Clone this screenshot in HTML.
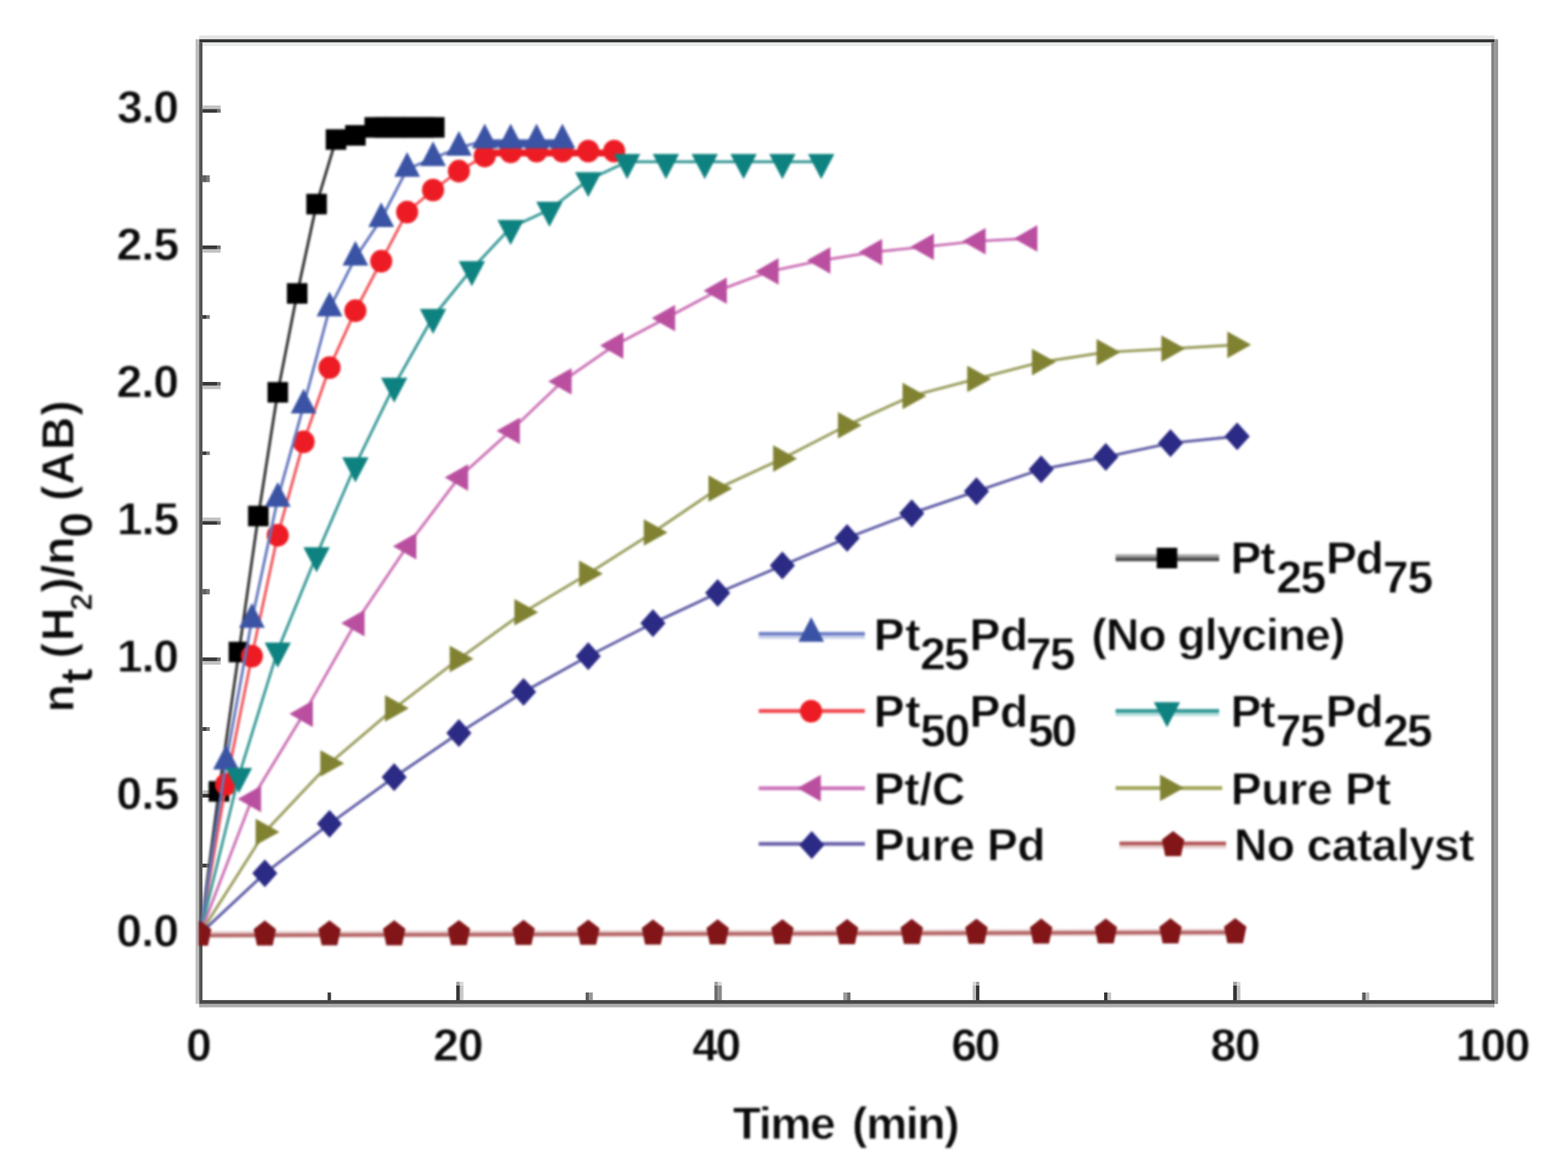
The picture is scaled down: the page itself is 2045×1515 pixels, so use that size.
<!DOCTYPE html>
<html lang="en"><head><meta charset="utf-8"><title>Hydrogen generation plot</title>
<style>
html,body{margin:0;padding:0;background:#fff;}
body{width:2045px;height:1515px;overflow:hidden;}
svg{display:block;}
text{font-family:"Liberation Sans",sans-serif;font-weight:bold;font-size:60px;fill:#0a0a0a;stroke:#fff;stroke-width:0.8px;stroke-linejoin:round;}
</style></head><body>
<svg width="2045" height="1515" viewBox="0 0 2045 1515">
<defs><clipPath id="pc"><rect x="259.4" y="40" width="1800" height="1280"/></clipPath><filter id="b" x="-1%" y="-1%" width="102%" height="102%" color-interpolation-filters="sRGB"><feGaussianBlur stdDeviation="1.6"/></filter><filter id="b2" x="-1%" y="-1%" width="102%" height="102%" color-interpolation-filters="sRGB"><feGaussianBlur stdDeviation="0.7"/></filter></defs>
<rect width="2045" height="1515" fill="#ffffff"/>
<g id="frame" filter="url(#b2)">
<rect x="259.6" y="46.2" width="1689.7" height="5.0" fill="#e4e4e4"/>
<rect x="264.1" y="55.1" width="1680.8" height="5.0" fill="#e8eaec"/>
<rect x="259.6" y="51.2" width="1689.7" height="4.0" fill="#323232"/>
<rect x="1944.9" y="55.2" width="4.4" height="1248.8" fill="#858585"/>
<rect x="1949.3" y="51.2" width="4.5" height="1257.7" fill="#959595"/>
<rect x="259.6" y="1308.8" width="1689.7" height="4.6" fill="#acacac"/>
<rect x="259.6" y="1303.9" width="1689.7" height="4.9" fill="#484848"/>
<rect x="255.1" y="51.2" width="4.5" height="1257.6" fill="#bebebe"/>
<rect x="259.6" y="55.2" width="4.5" height="1248.8" fill="#555555"/>
</g>
<g id="ticks" filter="url(#b2)">
<rect x="264.1" y="137.5" width="23.7" height="4.7" fill="#c2c2c2"/>
<rect x="264.1" y="142.2" width="18.9" height="4.7" fill="#383838"/>
<rect x="283.0" y="142.2" width="4.8" height="4.7" fill="#707070"/>
<rect x="264.1" y="324.8" width="23.7" height="4.7" fill="#c2c2c2"/>
<rect x="264.1" y="320.1" width="18.9" height="4.7" fill="#383838"/>
<rect x="283.0" y="320.1" width="4.8" height="4.7" fill="#707070"/>
<rect x="264.1" y="502.7" width="23.7" height="4.7" fill="#c2c2c2"/>
<rect x="264.1" y="498.0" width="18.9" height="4.7" fill="#383838"/>
<rect x="283.0" y="498.0" width="4.8" height="4.7" fill="#707070"/>
<rect x="264.1" y="674.7" width="23.7" height="4.7" fill="#c2c2c2"/>
<rect x="264.1" y="679.4" width="18.9" height="4.7" fill="#383838"/>
<rect x="283.0" y="679.4" width="4.8" height="4.7" fill="#707070"/>
<rect x="264.1" y="861.9" width="23.7" height="4.7" fill="#c2c2c2"/>
<rect x="264.1" y="857.2" width="18.9" height="4.7" fill="#383838"/>
<rect x="283.0" y="857.2" width="4.8" height="4.7" fill="#707070"/>
<rect x="264.1" y="1030.4" width="23.7" height="4.7" fill="#c2c2c2"/>
<rect x="264.1" y="1035.1" width="18.9" height="4.7" fill="#383838"/>
<rect x="283.0" y="1035.1" width="4.8" height="4.7" fill="#707070"/>
<rect x="264.1" y="228.5" width="4.9" height="9.0" fill="#5e5e5e"/>
<rect x="269.0" y="228.5" width="4.6" height="9.0" fill="#787878"/>
<rect x="264.1" y="410.8" width="4.9" height="4.9" fill="#383838"/>
<rect x="269.0" y="410.8" width="4.6" height="4.9" fill="#787878"/>
<rect x="264.1" y="588.6" width="4.9" height="4.6" fill="#383838"/>
<rect x="269.0" y="588.6" width="4.6" height="4.6" fill="#787878"/>
<rect x="264.1" y="767.9" width="4.9" height="7.0" fill="#606060"/>
<rect x="269.0" y="767.9" width="4.6" height="7.0" fill="#787878"/>
<rect x="264.1" y="948.0" width="4.9" height="5.0" fill="#404040"/>
<rect x="269.0" y="948.0" width="4.6" height="5.0" fill="#787878"/>
<rect x="264.1" y="1126.0" width="4.9" height="5.0" fill="#404040"/>
<rect x="269.0" y="1126.0" width="4.6" height="5.0" fill="#787878"/>
<rect x="595.1" y="1284.6" width="4.7" height="19.4" fill="#343434"/>
<rect x="595.1" y="1280.0" width="4.7" height="4.6" fill="#a0a0a0"/>
<rect x="599.8" y="1284.6" width="4.7" height="19.4" fill="#c8c8c8"/>
<rect x="599.8" y="1280.0" width="4.7" height="4.6" fill="#d8d8d8"/>
<rect x="931.7" y="1284.6" width="4.8" height="19.4" fill="#6e6e6e"/>
<rect x="931.7" y="1280.0" width="4.8" height="4.6" fill="#a0a0a0"/>
<rect x="936.5" y="1284.6" width="4.9" height="19.4" fill="#8a8a8a"/>
<rect x="936.5" y="1280.0" width="4.9" height="4.6" fill="#d8d8d8"/>
<rect x="1268.5" y="1284.6" width="4.5" height="19.4" fill="#bcbcbc"/>
<rect x="1268.5" y="1280.0" width="4.5" height="4.6" fill="#d8d8d8"/>
<rect x="1273.0" y="1284.6" width="4.3" height="19.4" fill="#343434"/>
<rect x="1273.0" y="1280.0" width="4.3" height="4.6" fill="#a0a0a0"/>
<rect x="1608.3" y="1284.6" width="4.7" height="19.4" fill="#343434"/>
<rect x="1608.3" y="1280.0" width="4.7" height="4.6" fill="#a0a0a0"/>
<rect x="1613.0" y="1284.6" width="4.7" height="19.4" fill="#c0c0c0"/>
<rect x="1613.0" y="1280.0" width="4.7" height="4.6" fill="#d8d8d8"/>
<rect x="427.3" y="1294.0" width="4.4" height="10.0" fill="#3a3a3a"/>
<rect x="763.8" y="1294.0" width="4.7" height="10.0" fill="#5e5e5e"/>
<rect x="768.5" y="1294.0" width="4.7" height="10.0" fill="#9a9a9a"/>
<rect x="1099.8" y="1294.0" width="4.7" height="10.0" fill="#9a9a9a"/>
<rect x="1104.5" y="1294.0" width="4.7" height="10.0" fill="#6e6e6e"/>
<rect x="1440.0" y="1294.0" width="4.6" height="10.0" fill="#343434"/>
<rect x="1444.6" y="1294.0" width="4.6" height="10.0" fill="#c8c8c8"/>
<rect x="1776.5" y="1294.0" width="4.5" height="10.0" fill="#5e5e5e"/>
<rect x="1781.0" y="1294.0" width="4.8" height="10.0" fill="#bcbcbc"/>
</g>
<g filter="url(#b)">
<g id="ylabels">
<text><tspan x="151.8" y="1234.4" letter-spacing="-0.94">0.0</tspan></text>
<text><tspan x="151.8" y="1055.2" letter-spacing="-0.73">0.5</tspan></text>
<text><tspan x="152.6" y="876.1" letter-spacing="-1.33">1.0</tspan></text>
<text><tspan x="152.6" y="697.0" letter-spacing="-1.13">1.5</tspan></text>
<text><tspan x="152.1" y="517.8" letter-spacing="-1.08">2.0</tspan></text>
<text><tspan x="152.1" y="338.7" letter-spacing="-0.88">2.5</tspan></text>
<text><tspan x="152.8" y="159.5" letter-spacing="-1.44">3.0</tspan></text>
</g>
<g id="xlabels">
<text><tspan x="242.7" y="1382.6">0</tspan></text>
<text><tspan x="565.0" y="1382.6" letter-spacing="-1.00">20</tspan></text>
<text><tspan x="902.9" y="1382.6" letter-spacing="-3.00">40</tspan></text>
<text><tspan x="1240.8" y="1382.6" letter-spacing="-3.00">60</tspan></text>
<text><tspan x="1578.7" y="1382.6" letter-spacing="-1.57">80</tspan></text>
<text><tspan x="1898.8" y="1382.6" letter-spacing="-1.53">100</tspan></text>
</g>
<g id="xtitle">
<text><tspan x="955.7" y="1485.0" letter-spacing="-1.57">Time</tspan> <tspan x="1111.3" y="1485.0" letter-spacing="-1.59">(min)</tspan></text>
</g>
<g id="ytitle" transform="translate(96,925) rotate(-90)">
<text><tspan x="-3.8" y="0.0">n</tspan><tspan x="33.8" y="24.0">t</tspan> <tspan x="66.8" y="0.0">(</tspan><tspan x="89.3" y="0.0">H</tspan><tspan x="129.0" y="24.0" style="font-size:40px">2</tspan><tspan x="152.2" y="0.0">)</tspan><tspan x="172.0" y="0.0">/</tspan><tspan x="188.4" y="0.0">n</tspan><tspan x="224.0" y="24.0">0</tspan> <tspan x="272.0" y="0.0">(</tspan><tspan x="293.1" y="0.0">A</tspan><tspan x="338.2" y="0.0">B</tspan><tspan x="382.9" y="0.0">)</tspan></text>
</g>
<g id="s-black" clip-path="url(#pc)">
<polyline points="261.0,1217.4 285.5,1031.8 311.6,850.1 336.9,672.8 362.2,511.5 387.6,382.6 412.9,266.1 438.2,181.9 463.5,176.5 488.8,166.1 514.1,166.1 539.4,166.1 566.4,166.1" fill="none" stroke="#303030" stroke-width="3.6" stroke-linejoin="round"/>
<line x1="488.8" y1="166.1" x2="566.4" y2="166.1" stroke="#000" stroke-width="26.8"/>
<rect x="272.1" y="1018.4" width="26.8" height="26.8" fill="#000000"/>
<rect x="298.2" y="836.7" width="26.8" height="26.8" fill="#000000"/>
<rect x="323.5" y="659.4" width="26.8" height="26.8" fill="#000000"/>
<rect x="348.9" y="498.1" width="26.8" height="26.8" fill="#000000"/>
<rect x="374.2" y="369.2" width="26.8" height="26.8" fill="#000000"/>
<rect x="399.5" y="252.7" width="26.8" height="26.8" fill="#000000"/>
<rect x="424.8" y="168.5" width="26.8" height="26.8" fill="#000000"/>
<rect x="450.1" y="163.1" width="26.8" height="26.8" fill="#000000"/>
<rect x="475.4" y="152.7" width="26.8" height="26.8" fill="#000000"/>
<rect x="500.7" y="152.7" width="26.8" height="26.8" fill="#000000"/>
<rect x="526.0" y="152.7" width="26.8" height="26.8" fill="#000000"/>
<rect x="553.0" y="152.7" width="26.8" height="26.8" fill="#000000"/>
</g>
<g id="s-red" clip-path="url(#pc)">
<polyline points="261.0,1217.4 294.8,1022.8 328.5,855.5 362.2,697.9 396.0,576.0 429.8,479.3 463.5,405.1 497.2,340.6 531.0,276.5 564.8,247.8 598.5,223.1 632.2,203.4 666.0,198.0 699.8,197.0 733.5,197.0 767.2,197.0 801.0,197.0" fill="none" stroke="#f2555a" stroke-width="3.6" stroke-linejoin="round"/>
<line x1="632.2" y1="199.5" x2="801.0" y2="199.5" stroke="#ed1c24" stroke-width="9"/>
<ellipse cx="294.8" cy="1022.8" rx="14.4" ry="14.8" fill="#ed1c24"/>
<ellipse cx="328.5" cy="855.5" rx="14.4" ry="14.8" fill="#ed1c24"/>
<ellipse cx="362.2" cy="697.9" rx="14.4" ry="14.8" fill="#ed1c24"/>
<ellipse cx="396.0" cy="576.0" rx="14.4" ry="14.8" fill="#ed1c24"/>
<ellipse cx="429.8" cy="479.3" rx="14.4" ry="14.8" fill="#ed1c24"/>
<ellipse cx="463.5" cy="405.1" rx="14.4" ry="14.8" fill="#ed1c24"/>
<ellipse cx="497.2" cy="340.6" rx="14.4" ry="14.8" fill="#ed1c24"/>
<ellipse cx="531.0" cy="276.5" rx="14.4" ry="14.8" fill="#ed1c24"/>
<ellipse cx="564.8" cy="247.8" rx="14.4" ry="14.8" fill="#ed1c24"/>
<ellipse cx="598.5" cy="223.1" rx="14.4" ry="14.8" fill="#ed1c24"/>
<ellipse cx="632.2" cy="203.4" rx="14.4" ry="14.8" fill="#ed1c24"/>
<ellipse cx="666.0" cy="198.0" rx="14.4" ry="14.8" fill="#ed1c24"/>
<ellipse cx="699.8" cy="197.0" rx="14.4" ry="14.8" fill="#ed1c24"/>
<ellipse cx="733.5" cy="197.0" rx="14.4" ry="14.8" fill="#ed1c24"/>
<ellipse cx="767.2" cy="197.0" rx="14.4" ry="14.8" fill="#ed1c24"/>
<ellipse cx="801.0" cy="197.0" rx="14.4" ry="14.8" fill="#ed1c24"/>
</g>
<g id="s-blue" clip-path="url(#pc)">
<polyline points="261.0,1217.4 294.8,993.1 328.5,808.2 362.2,650.6 396.0,528.7 429.8,402.3 463.5,336.0 497.2,285.8 531.0,220.3 564.8,206.3 598.5,192.7 632.2,183.3 666.0,183.3 699.8,183.3 733.5,183.3" fill="none" stroke="#6477bd" stroke-width="3.6" stroke-linejoin="round"/>
<line x1="620.4" y1="187.0" x2="741.9" y2="187.0" stroke="#3a53a4" stroke-width="9"/>
<polygon points="294.8,971.1 311.6,1003.3 277.9,1003.3" fill="#3a53a4"/>
<polygon points="328.5,786.2 345.3,818.4 311.7,818.4" fill="#3a53a4"/>
<polygon points="362.2,628.6 379.1,660.8 345.4,660.8" fill="#3a53a4"/>
<polygon points="396.0,506.7 412.8,538.9 379.2,538.9" fill="#3a53a4"/>
<polygon points="429.8,380.3 446.6,412.5 412.9,412.5" fill="#3a53a4"/>
<polygon points="463.5,314.0 480.3,346.2 446.7,346.2" fill="#3a53a4"/>
<polygon points="497.2,263.8 514.0,296.0 480.4,296.0" fill="#3a53a4"/>
<polygon points="531.0,198.3 547.8,230.5 514.2,230.5" fill="#3a53a4"/>
<polygon points="564.8,184.3 581.5,216.5 548.0,216.5" fill="#3a53a4"/>
<polygon points="598.5,170.7 615.3,202.9 581.7,202.9" fill="#3a53a4"/>
<polygon points="632.2,161.3 649.0,193.5 615.5,193.5" fill="#3a53a4"/>
<polygon points="666.0,161.3 682.8,193.5 649.2,193.5" fill="#3a53a4"/>
<polygon points="699.8,161.3 716.5,193.5 683.0,193.5" fill="#3a53a4"/>
<polygon points="733.5,161.3 750.3,193.5 716.7,193.5" fill="#3a53a4"/>
</g>
<g id="s-teal" clip-path="url(#pc)">
<polyline points="261.0,1217.4 311.6,1011.4 362.2,848.0 412.9,723.7 463.5,606.5 514.1,502.6 564.8,413.0 615.4,350.7 666.0,296.9 716.6,273.3 767.2,234.6 817.9,210.9 868.5,210.9 919.1,210.9 969.8,210.9 1020.4,210.9 1071.0,210.9" fill="none" stroke="#3a9a98" stroke-width="3.6" stroke-linejoin="round"/>
<polygon points="311.6,1033.9 328.8,1001.2 294.4,1001.2" fill="#0e8280"/>
<polygon points="362.2,870.5 379.4,837.8 345.1,837.8" fill="#0e8280"/>
<polygon points="412.9,746.2 430.1,713.5 395.7,713.5" fill="#0e8280"/>
<polygon points="463.5,629.0 480.7,596.3 446.3,596.3" fill="#0e8280"/>
<polygon points="514.1,525.1 531.3,492.4 496.9,492.4" fill="#0e8280"/>
<polygon points="564.8,435.5 582.0,402.8 547.5,402.8" fill="#0e8280"/>
<polygon points="615.4,373.2 632.6,340.5 598.2,340.5" fill="#0e8280"/>
<polygon points="666.0,319.4 683.2,286.7 648.8,286.7" fill="#0e8280"/>
<polygon points="716.6,295.8 733.8,263.1 699.4,263.1" fill="#0e8280"/>
<polygon points="767.2,257.1 784.5,224.4 750.0,224.4" fill="#0e8280"/>
<polygon points="817.9,233.4 835.1,200.7 800.7,200.7" fill="#0e8280"/>
<polygon points="868.5,233.4 885.7,200.7 851.3,200.7" fill="#0e8280"/>
<polygon points="919.1,233.4 936.3,200.7 901.9,200.7" fill="#0e8280"/>
<polygon points="969.8,233.4 987.0,200.7 952.5,200.7" fill="#0e8280"/>
<polygon points="1020.4,233.4 1037.6,200.7 1003.2,200.7" fill="#0e8280"/>
<polygon points="1071.0,233.4 1088.2,200.7 1053.8,200.7" fill="#0e8280"/>
</g>
<g id="s-mag" clip-path="url(#pc)">
<polyline points="261.0,1217.4 328.5,1041.8 396.0,930.8 463.5,812.5 531.0,712.2 598.5,622.6 666.0,561.7 733.5,497.2 801.0,450.6 868.5,414.8 936.0,379.0 1003.5,353.9 1071.0,339.6 1138.5,328.8 1206.0,321.7 1273.5,314.5 1341.0,310.9" fill="none" stroke="#cc72b6" stroke-width="3.6" stroke-linejoin="round"/>
<polygon points="310.0,1041.8 340.5,1024.5 340.5,1059.1" fill="#ba4fa0"/>
<polygon points="377.5,930.8 408.0,913.5 408.0,948.1" fill="#ba4fa0"/>
<polygon points="445.0,812.5 475.5,795.2 475.5,829.8" fill="#ba4fa0"/>
<polygon points="512.5,712.2 543.0,694.9 543.0,729.5" fill="#ba4fa0"/>
<polygon points="580.0,622.6 610.5,605.3 610.5,639.9" fill="#ba4fa0"/>
<polygon points="647.5,561.7 678.0,544.4 678.0,579.0" fill="#ba4fa0"/>
<polygon points="715.0,497.2 745.5,479.9 745.5,514.5" fill="#ba4fa0"/>
<polygon points="782.5,450.6 813.0,433.3 813.0,467.9" fill="#ba4fa0"/>
<polygon points="850.0,414.8 880.5,397.5 880.5,432.1" fill="#ba4fa0"/>
<polygon points="917.5,379.0 948.0,361.7 948.0,396.3" fill="#ba4fa0"/>
<polygon points="985.0,353.9 1015.5,336.6 1015.5,371.2" fill="#ba4fa0"/>
<polygon points="1052.5,339.6 1083.0,322.3 1083.0,356.9" fill="#ba4fa0"/>
<polygon points="1120.0,328.8 1150.5,311.5 1150.5,346.1" fill="#ba4fa0"/>
<polygon points="1187.5,321.7 1218.0,304.4 1218.0,339.0" fill="#ba4fa0"/>
<polygon points="1255.0,314.5 1285.5,297.2 1285.5,331.8" fill="#ba4fa0"/>
<polygon points="1322.5,310.9 1353.0,293.6 1353.0,328.2" fill="#ba4fa0"/>
</g>
<g id="s-olive" clip-path="url(#pc)">
<polyline points="261.0,1217.4 345.4,1084.8 429.8,995.3 514.1,923.6 598.5,859.1 682.9,798.2 767.2,748.0 851.6,694.3 936.0,637.0 1020.4,597.9 1104.8,554.5 1189.1,516.2 1273.5,494.0 1357.9,472.1 1442.2,459.2 1526.6,454.6 1612.7,449.6" fill="none" stroke="#9a9c5c" stroke-width="3.6" stroke-linejoin="round"/>
<polygon points="364.4,1084.8 333.4,1067.5 333.4,1102.1" fill="#808232"/>
<polygon points="448.8,995.3 417.8,978.0 417.8,1012.6" fill="#808232"/>
<polygon points="533.1,923.6 502.1,906.3 502.1,940.9" fill="#808232"/>
<polygon points="617.5,859.1 586.5,841.8 586.5,876.4" fill="#808232"/>
<polygon points="701.9,798.2 670.9,780.9 670.9,815.5" fill="#808232"/>
<polygon points="786.2,748.0 755.2,730.7 755.2,765.3" fill="#808232"/>
<polygon points="870.6,694.3 839.6,677.0 839.6,711.6" fill="#808232"/>
<polygon points="955.0,637.0 924.0,619.7 924.0,654.3" fill="#808232"/>
<polygon points="1039.4,597.9 1008.4,580.6 1008.4,615.2" fill="#808232"/>
<polygon points="1123.8,554.5 1092.8,537.2 1092.8,571.8" fill="#808232"/>
<polygon points="1208.1,516.2 1177.1,498.9 1177.1,533.5" fill="#808232"/>
<polygon points="1292.5,494.0 1261.5,476.7 1261.5,511.3" fill="#808232"/>
<polygon points="1376.9,472.1 1345.9,454.8 1345.9,489.4" fill="#808232"/>
<polygon points="1461.2,459.2 1430.2,441.9 1430.2,476.5" fill="#808232"/>
<polygon points="1545.6,454.6 1514.6,437.3 1514.6,471.9" fill="#808232"/>
<polygon points="1631.7,449.6 1600.7,432.3 1600.7,466.9" fill="#808232"/>
</g>
<g id="s-navy" clip-path="url(#pc)">
<polyline points="261.0,1217.4 345.4,1138.6 429.8,1074.1 514.1,1013.2 598.5,955.8 682.9,902.1 767.2,855.5 851.6,812.5 936.0,773.1 1020.4,737.3 1104.8,701.4 1189.1,669.2 1273.5,640.5 1357.9,611.9 1442.2,595.7 1526.6,577.8 1613.5,568.9" fill="none" stroke="#5c5aa4" stroke-width="3.6" stroke-linejoin="round"/>
<polygon points="345.4,1120.4 361.8,1138.6 345.4,1156.8 329.0,1138.6" fill="#2b2a84"/>
<polygon points="429.8,1055.9 446.1,1074.1 429.8,1092.3 413.4,1074.1" fill="#2b2a84"/>
<polygon points="514.1,995.0 530.5,1013.2 514.1,1031.4 497.7,1013.2" fill="#2b2a84"/>
<polygon points="598.5,937.6 614.9,955.8 598.5,974.0 582.1,955.8" fill="#2b2a84"/>
<polygon points="682.9,883.9 699.3,902.1 682.9,920.3 666.5,902.1" fill="#2b2a84"/>
<polygon points="767.2,837.3 783.6,855.5 767.2,873.7 750.9,855.5" fill="#2b2a84"/>
<polygon points="851.6,794.3 868.0,812.5 851.6,830.7 835.2,812.5" fill="#2b2a84"/>
<polygon points="936.0,754.9 952.4,773.1 936.0,791.3 919.6,773.1" fill="#2b2a84"/>
<polygon points="1020.4,719.1 1036.8,737.3 1020.4,755.5 1004.0,737.3" fill="#2b2a84"/>
<polygon points="1104.8,683.2 1121.2,701.4 1104.8,719.6 1088.3,701.4" fill="#2b2a84"/>
<polygon points="1189.1,651.0 1205.5,669.2 1189.1,687.4 1172.7,669.2" fill="#2b2a84"/>
<polygon points="1273.5,622.3 1289.9,640.5 1273.5,658.7 1257.1,640.5" fill="#2b2a84"/>
<polygon points="1357.9,593.7 1374.3,611.9 1357.9,630.1 1341.5,611.9" fill="#2b2a84"/>
<polygon points="1442.2,577.5 1458.7,595.7 1442.2,613.9 1425.8,595.7" fill="#2b2a84"/>
<polygon points="1526.6,559.6 1543.0,577.8 1526.6,596.0 1510.2,577.8" fill="#2b2a84"/>
<polygon points="1613.5,550.7 1629.9,568.9 1613.5,587.1 1597.1,568.9" fill="#2b2a84"/>
</g>
<g id="s-dred" clip-path="url(#pc)">
<line x1="259" y1="1218.6" x2="1611.0" y2="1215.6" stroke="#e6cfcf" stroke-width="9"/>
<line x1="259" y1="1219.6" x2="1611.0" y2="1215.6" stroke="#b46262" stroke-width="4.4"/>
<polygon points="261.0,1200.3 275.6,1211.6 271.2,1233.0 250.8,1233.0 246.4,1211.6" fill="#821518"/>
<polygon points="345.4,1200.1 360.0,1211.4 355.6,1232.8 335.2,1232.8 330.8,1211.4" fill="#821518"/>
<polygon points="429.8,1199.9 444.4,1211.2 439.9,1232.6 419.6,1232.6 415.1,1211.2" fill="#821518"/>
<polygon points="514.1,1199.7 528.7,1211.0 524.3,1232.4 503.9,1232.4 499.5,1211.0" fill="#821518"/>
<polygon points="598.5,1199.5 613.1,1210.8 608.7,1232.2 588.3,1232.2 583.9,1210.8" fill="#821518"/>
<polygon points="682.9,1199.3 697.5,1210.6 693.1,1232.0 672.7,1232.0 668.3,1210.6" fill="#821518"/>
<polygon points="767.2,1199.0 781.9,1210.3 777.5,1231.7 757.0,1231.7 752.6,1210.3" fill="#821518"/>
<polygon points="851.6,1198.8 866.2,1210.1 861.8,1231.5 841.4,1231.5 837.0,1210.1" fill="#821518"/>
<polygon points="936.0,1198.6 950.6,1209.9 946.2,1231.3 925.8,1231.3 921.4,1209.9" fill="#821518"/>
<polygon points="1020.4,1198.4 1035.0,1209.7 1030.6,1231.1 1010.2,1231.1 1005.8,1209.7" fill="#821518"/>
<polygon points="1104.8,1198.2 1119.3,1209.5 1115.0,1230.9 1094.5,1230.9 1090.2,1209.5" fill="#821518"/>
<polygon points="1189.1,1198.0 1203.7,1209.3 1199.3,1230.7 1178.9,1230.7 1174.5,1209.3" fill="#821518"/>
<polygon points="1273.5,1197.8 1288.1,1209.1 1283.7,1230.5 1263.3,1230.5 1258.9,1209.1" fill="#821518"/>
<polygon points="1357.9,1197.6 1372.5,1208.9 1368.1,1230.3 1347.7,1230.3 1343.3,1208.9" fill="#821518"/>
<polygon points="1442.2,1197.4 1456.8,1208.7 1452.5,1230.1 1432.0,1230.1 1427.7,1208.7" fill="#821518"/>
<polygon points="1526.6,1197.2 1541.2,1208.5 1536.8,1229.9 1516.4,1229.9 1512.0,1208.5" fill="#821518"/>
<polygon points="1611.0,1197.0 1625.6,1208.3 1621.2,1229.7 1600.8,1229.7 1596.4,1208.3" fill="#821518"/>
</g>
<g id="l-black">
<line x1="1455" y1="725.0" x2="1590" y2="725.0" stroke="#a0a0a0" stroke-width="4.5"/>
<line x1="1455" y1="729.4" x2="1590" y2="729.4" stroke="#4c4c4c" stroke-width="4.6"/>
<rect x="1508.6" y="714.2" width="26.8" height="26.8" fill="#000000"/>
<text><tspan x="1604.9" y="747.5" letter-spacing="-1.45">Pt</tspan><tspan x="1664.8" y="772.5" letter-spacing="-1.89">25</tspan><tspan x="1729.6" y="747.5" letter-spacing="-1.70">Pd</tspan><tspan x="1803.6" y="772.5" letter-spacing="-1.29">75</tspan></text>
</g>
<g id="l-blue">
<line x1="989.5" y1="826.3" x2="1128" y2="826.3" stroke="#6a7cc4" stroke-width="4.8"/>
<line x1="989.5" y1="830.8" x2="1128" y2="830.8" stroke="#cdd2ec" stroke-width="4.2"/>
<polygon points="1058.0,804.6 1074.8,836.8 1041.2,836.8" fill="#3a53a4"/>
<text><tspan x="1139.6" y="847.8" letter-spacing="0.95">Pt</tspan><tspan x="1200.0" y="872.8" letter-spacing="-2.29">25</tspan><tspan x="1264.5" y="847.8" letter-spacing="-0.20">Pd</tspan><tspan x="1337.9" y="872.8" letter-spacing="-1.89">75</tspan> <tspan x="1423.6" y="847.8" letter-spacing="-1.13">(No glycine)</tspan></text>
</g>
<g id="l-red">
<line x1="989.5" y1="927.0" x2="1128" y2="927.0" stroke="#f0444a" stroke-width="5.0"/>
<ellipse cx="1057.8" cy="927.2" rx="14.4" ry="14.8" fill="#ed1c24"/>
<text><tspan x="1139.6" y="947.5" letter-spacing="0.95">Pt</tspan><tspan x="1200.3" y="972.5" letter-spacing="-1.73">50</tspan><tspan x="1264.5" y="947.5" letter-spacing="-0.20">Pd</tspan><tspan x="1340.8" y="972.5" letter-spacing="-2.83">50</tspan></text>
</g>
<g id="l-teal">
<line x1="1455" y1="927.0" x2="1590" y2="927.0" stroke="#2f9694" stroke-width="4.8"/>
<line x1="1455" y1="931.4" x2="1590" y2="931.4" stroke="#b4dcda" stroke-width="4.0"/>
<polygon points="1522.0,948.3 1539.2,915.6 1504.8,915.6" fill="#0e8280"/>
<text><tspan x="1605.1" y="947.5" letter-spacing="-1.45">Pt</tspan><tspan x="1664.0" y="972.5" letter-spacing="-1.79">75</tspan><tspan x="1729.0" y="947.5" letter-spacing="-1.30">Pd</tspan><tspan x="1804.0" y="972.5" letter-spacing="-2.39">25</tspan></text>
</g>
<g id="l-mag">
<line x1="989.5" y1="1027.8" x2="1128" y2="1027.8" stroke="#cc72b8" stroke-width="5.0"/>
<polygon points="1040.0,1027.6 1070.5,1010.3 1070.5,1044.9" fill="#ba4fa0"/>
<text><tspan x="1139.6" y="1048.5" letter-spacing="-0.25">Pt/C</tspan></text>
</g>
<g id="l-olive">
<line x1="1455" y1="1027.4" x2="1594" y2="1027.4" stroke="#a0a458" stroke-width="5.0"/>
<polygon points="1544.0,1027.3 1513.0,1010.0 1513.0,1044.6" fill="#808232"/>
<text><tspan x="1605.3" y="1048.5" letter-spacing="-0.20">Pure Pt</tspan></text>
</g>
<g id="l-navy">
<line x1="989.5" y1="1100.3" x2="1128" y2="1100.3" stroke="#6a62aa" stroke-width="5.0"/>
<polygon points="1058.7,1083.6 1075.1,1101.8 1058.7,1120.0 1042.3,1101.8" fill="#2b2a84"/>
<text><tspan x="1139.6" y="1121.5" letter-spacing="-0.48">Pure Pd</tspan></text>
</g>
<g id="l-dred">
<line x1="1460" y1="1099.8" x2="1599" y2="1099.8" stroke="#b25656" stroke-width="5.0"/>
<line x1="1460" y1="1104.2" x2="1599" y2="1104.2" stroke="#e6cccc" stroke-width="4.0"/>
<polygon points="1530.0,1083.5 1544.6,1094.8 1540.2,1116.2 1519.8,1116.2 1515.4,1094.8" fill="#821518"/>
<text><tspan x="1609.6" y="1121.5" letter-spacing="-0.67">No catalyst</tspan></text>
</g>
</g>
</svg>
</body></html>
